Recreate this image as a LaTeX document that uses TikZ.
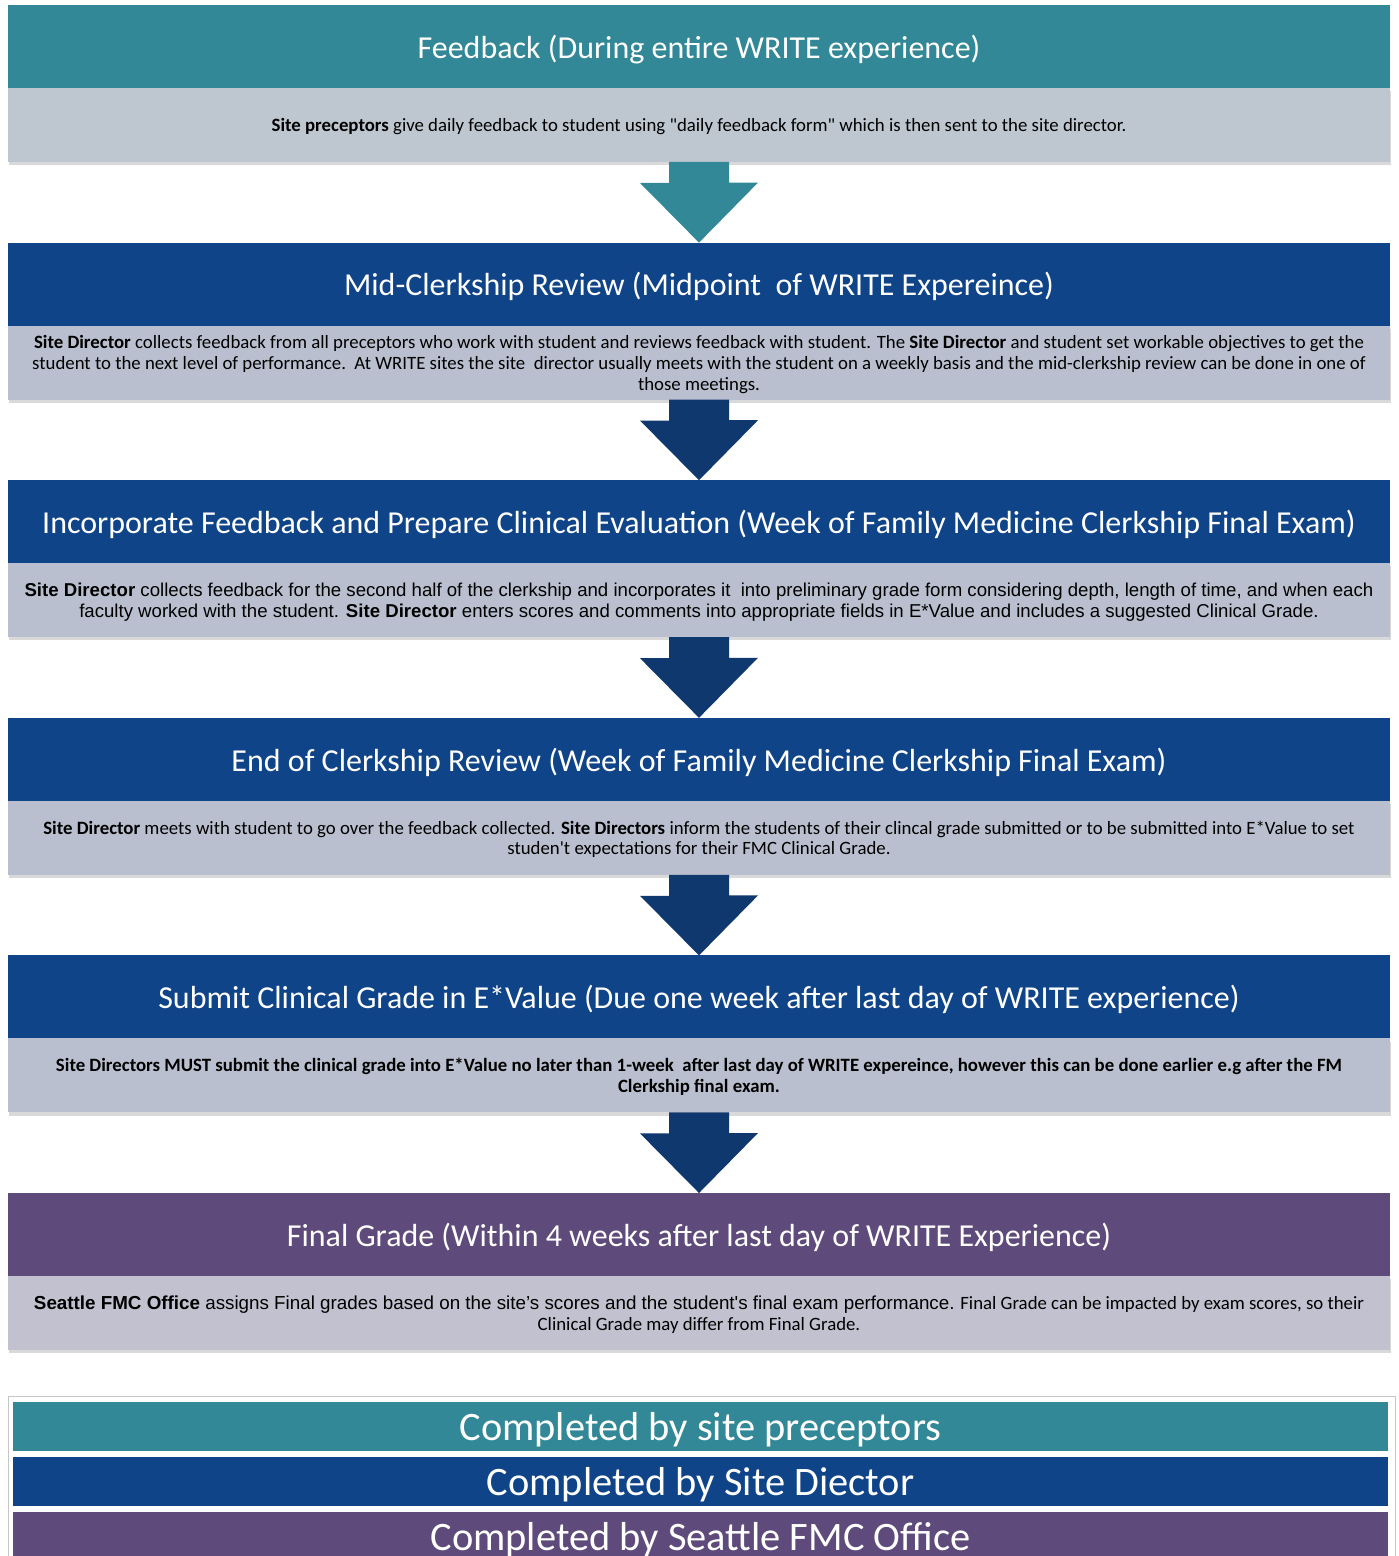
\documentclass[tikz,border=0pt]{standalone}
\usepackage{fontspec}
\setmainfont{Carlito}[Ligatures=TeXOff]
\newfontfamily\arialfont{Liberation Sans}[Ligatures=TeXOff]
\usetikzlibrary{shadows}
\definecolor{tlhead}{rgb}{0.2,0.533,0.596}
\definecolor{blhead}{rgb}{0.063,0.267,0.533}
\definecolor{blarrow}{rgb}{0.06,0.22,0.43}
\definecolor{puhead}{rgb}{0.373,0.294,0.482}
\definecolor{gybody}{rgb}{0.745,0.78,0.816}
\definecolor{bgbody}{rgb}{0.725,0.749,0.808}
\definecolor{pgbody}{rgb}{0.757,0.757,0.812}

\tikzset{
  headbar/.style={rectangle,inner sep=0pt,outer sep=0pt,minimum width=27.64cm,minimum height=1.66cm,text depth=0pt,text=white,font=\fontsize{18.2}{21}\selectfont},
  bodybox/.style={rectangle,inner sep=0pt,outer sep=0pt,minimum width=27.64cm,minimum height=1.48cm,text depth=0pt,align=center,font=\fontsize{10.7}{11.9}\selectfont,drop shadow={opacity=0.3,shadow xshift=0.6pt,shadow yshift=-1.8pt}},
  keybar/.style={rectangle,inner sep=0pt,outer sep=0pt,minimum width=27.5cm,minimum height=0.98cm,text depth=0pt,text=white,font=\fontsize{23}{26}\selectfont}
}

\begin{document}
\begin{tikzpicture}[line cap=round,line join=round,x=0.02cm,y=-0.02cm]
\useasboundingbox (0,0) rectangle (1399,1556);

\node[bodybox,fill=gybody] (b1) at (699,125) {\textbf{Site preceptors} give daily feedback to student using "daily feedback form" which is then sent to the site director.};
\node[headbar,fill=tlhead] (h1) at (699,46.5) {Feedback (During entire WRITE experience)};

\node[bodybox,fill=bgbody] (b2) at (699,362.6) {\textbf{Site Director} collects feedback from all preceptors who work with student and reviews feedback with student. The \textbf{Site Director} and student set workable objectives to get the\\ student to the next level of performance.\ \ At WRITE sites the site\ \ director usually meets with the student on a weekly basis and the mid-clerkship review can be done in one of\\ those meetings.};
\node[headbar,fill=blhead] (h2) at (699,284.1) {Mid-Clerkship Review (Midpoint\ \ of WRITE Expereince)};

\node[bodybox,fill=bgbody,font=\arialfont\fontsize{10.6}{11.9}\selectfont] (b3) at (699,600.2) {\textbf{Site Director} collects feedback for the second half of the clerkship and incorporates it\ \ into preliminary grade form considering depth, length of time, and when each\\ faculty worked with the student. \textbf{Site Director} enters scores and comments into appropriate fields in E*Value and includes a suggested Clinical Grade.};
\node[headbar,fill=blhead] (h3) at (699,521.7) {Incorporate Feedback and Prepare Clinical Evaluation (Week of Family Medicine Clerkship Final Exam)};

\node[bodybox,fill=bgbody] (b4) at (699,837.8) {\textbf{Site Director} meets with student to go over the feedback collected. \textbf{Site Directors} inform the students of their clincal grade submitted or to be submitted into E*Value to set\\ studen't expectations for their FMC Clinical Grade.};
\node[headbar,fill=blhead] (h4) at (699,759.3) {End of Clerkship Review (Week of Family Medicine Clerkship Final Exam)};

\node[bodybox,fill=bgbody,font=\bfseries\fontsize{10.7}{11.9}\selectfont] (b5) at (699,1075.4) {Site Directors MUST submit the clinical grade into E*Value no later than 1-week\ \ after last day of WRITE expereince, however this can be done earlier e.g after the FM\\ Clerkship final exam.};
\node[headbar,fill=blhead] (h5) at (699,996.9) {Submit Clinical Grade in E*Value (Due one week after last day of WRITE experience)};

\node[bodybox,fill=pgbody] (b6) at (699,1313) {{\arialfont\textbf{Seattle FMC Office} assigns Final grades based on the site’s scores and the student's final exam performance.} Final Grade can be impacted by exam scores, so their\\ Clinical Grade may differ from Final Grade.};
\node[headbar,fill=puhead] (h6) at (699,1234.5) {Final Grade (Within 4 weeks after last day of WRITE Experience)};

% block arrows between the stages
\foreach \a/\b/\c in {b1/h2/tlhead,b2/h3/blarrow,b3/h4/blarrow,b4/h5/blarrow,b5/h6/blarrow}
\fill[\c] ([xshift=-0.6cm]\a.south) -- ++(0,21) -- ++(-29,0) -- (\b.north) -- ++(59,-60) -- ++(-29,0) -- ([xshift=0.6cm]\a.south) -- cycle;

% key
\draw[color=gray!45] (8,1396) rectangle (1395,1600);
\node[keybar,fill=tlhead] (k1) at (700.5,1426.5) {Completed by site preceptors};
\node[keybar,fill=blhead] (k2) at (700.5,1481.5) {Completed by Site Diector};
\node[keybar,fill=puhead] (k3) at (700.5,1536.5) {Completed by Seattle FMC Office};
\end{tikzpicture}
\end{document}
